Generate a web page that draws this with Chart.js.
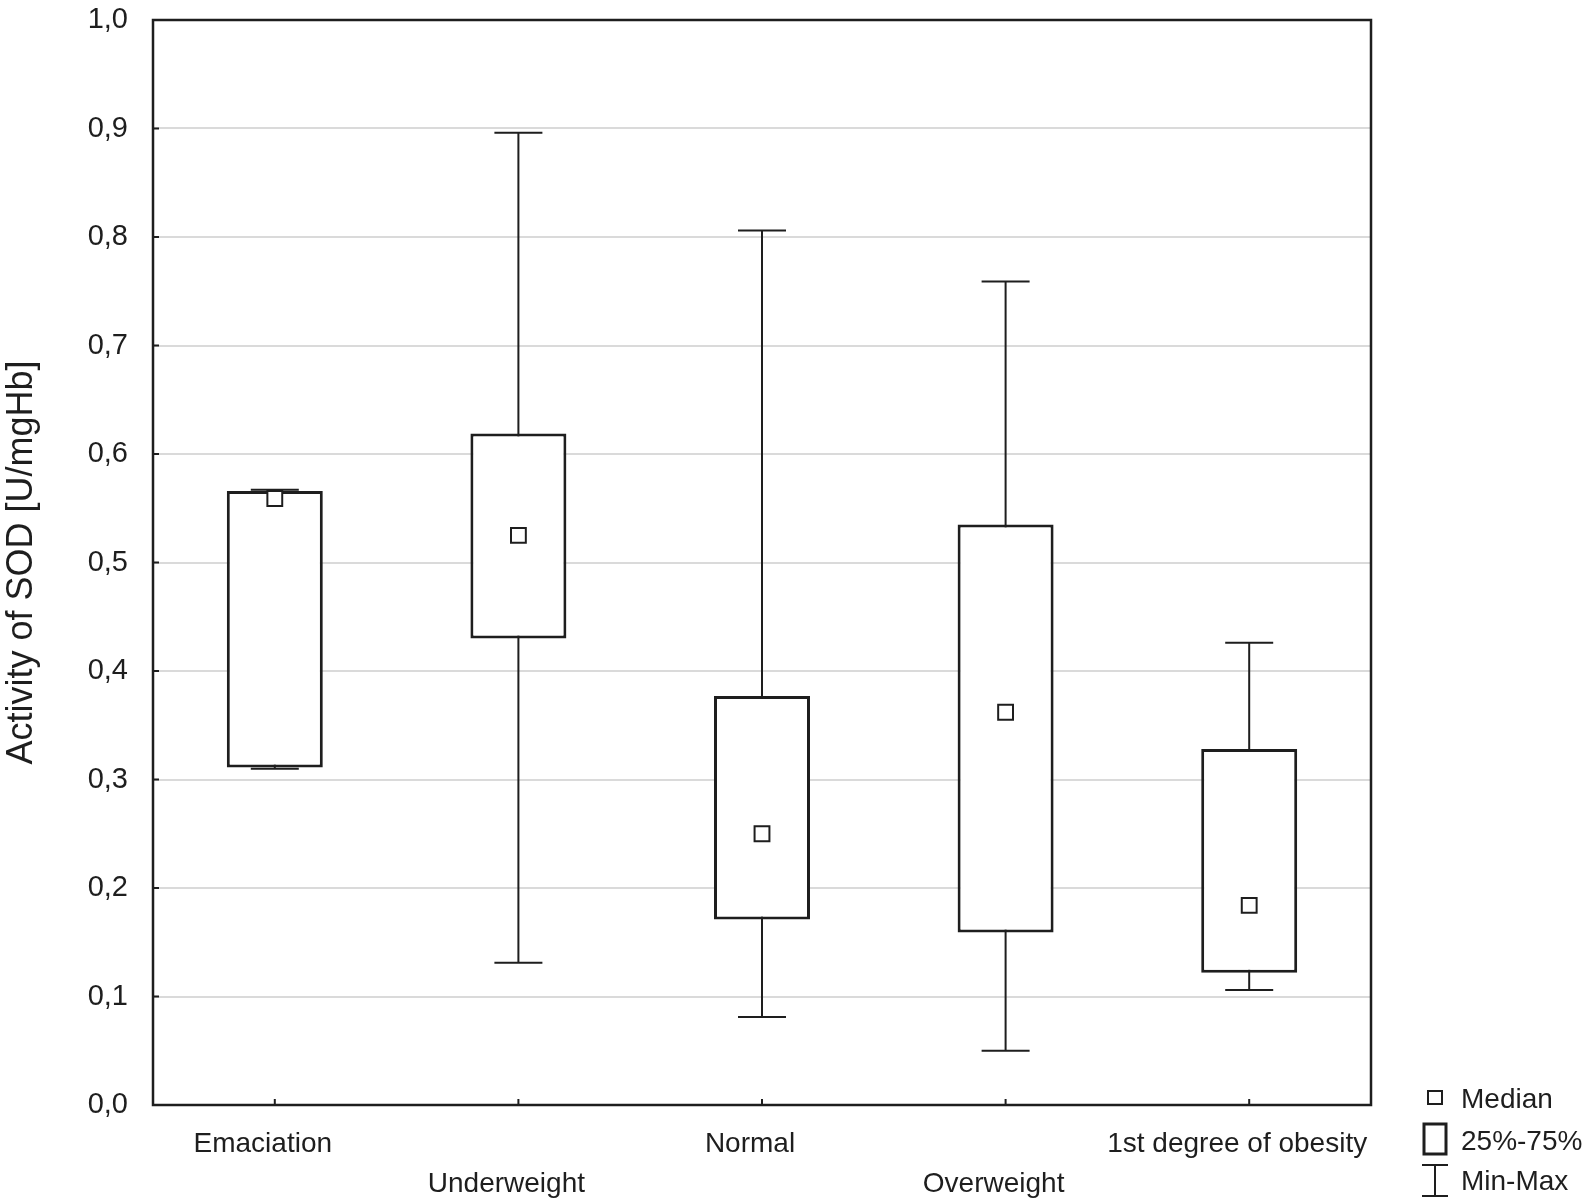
<!DOCTYPE html>
<html>
<head>
<meta charset="utf-8">
<script src="https://cdn.jsdelivr.net/npm/chart.js@4.4.1/dist/chart.umd.min.js"></script>
<style>
  html, body { margin: 0; padding: 0; background: #fff; }
  canvas { display: block; }
</style>
</head>
<body>
<canvas id="sodChart" width="1592" height="1201"></canvas>
<script>
// data
const categories = ['Emaciation', 'Underweight', 'Normal', 'Overweight', '1st degree of obesity'];
const minVals    = [0.310, 0.131, 0.081, 0.050, 0.106];
const q1Vals     = [0.311, 0.430, 0.171, 0.159, 0.122];
const medianVals = [0.559, 0.525, 0.250, 0.362, 0.184];
const q3Vals     = [0.566, 0.619, 0.377, 0.535, 0.328];
const maxVals    = [0.567, 0.896, 0.806, 0.759, 0.426];
const yTickLabels = ['0,0', '0,1', '0,2', '0,3', '0,4', '0,5', '0,6', '0,7', '0,8', '0,9', '1,0'];
const legendLabels = ['Median', '25%-75%', 'Min-Max'];

const ink = '#1e1e1e';
const fontFamily = '"Liberation Sans", Arial, sans-serif';

// staggered labels: even ones on first row, odd ones on second row
const xLabels = categories.map((c, i) => i % 2 === 0 ? [c, ''] : ['', c]);

// whiskers behind the boxes
const whiskerPlugin = {
  id: 'whiskers',
  beforeDatasetsDraw(chart) {
    const { ctx, scales: { x, y } } = chart;
    ctx.save();
    ctx.strokeStyle = ink;
    ctx.lineWidth = 2;
    categories.forEach((c, i) => {
      const px = x.getPixelForValue(i);
      const yMin = y.getPixelForValue(minVals[i]);
      const yMax = y.getPixelForValue(maxVals[i]);
      ctx.beginPath();
      ctx.moveTo(px, yMin); ctx.lineTo(px, yMax);
      ctx.moveTo(px - 24, yMin); ctx.lineTo(px + 24, yMin);
      ctx.moveTo(px - 24, yMax); ctx.lineTo(px + 24, yMax);
      ctx.stroke();
    });
    ctx.restore();
  }
};

// frame, inner ticks and the legend
const framePlugin = {
  id: 'frame',
  afterDraw(chart) {
    const { ctx, chartArea: a, scales: { x, y } } = chart;
    ctx.save();
    ctx.strokeStyle = ink;
    ctx.lineWidth = 2.5;
    ctx.strokeRect(a.left, a.top, a.right - a.left, a.bottom - a.top);

    ctx.lineWidth = 2;
    ctx.beginPath();
    y.ticks.forEach(t => {
      const py = y.getPixelForValue(t.value);
      ctx.moveTo(a.left, py); ctx.lineTo(a.left + 6, py);
    });
    categories.forEach((c, i) => {
      const px = x.getPixelForValue(i);
      ctx.moveTo(px, a.bottom); ctx.lineTo(px, a.bottom - 6);
    });
    ctx.stroke();

    // legend
    const lx = 1435;
    ctx.font = '28px ' + fontFamily;
    ctx.fillStyle = ink;
    ctx.textBaseline = 'middle';
    ctx.textAlign = 'left';

    ctx.lineWidth = 2;
    ctx.strokeRect(lx - 7, 1091, 14, 13);
    ctx.fillText(legendLabels[0], 1461, 1100);

    ctx.lineWidth = 3;
    ctx.strokeRect(lx - 11, 1124, 22, 30);
    ctx.fillText(legendLabels[1], 1461, 1142);

    ctx.lineWidth = 2;
    ctx.beginPath();
    ctx.moveTo(lx, 1165); ctx.lineTo(lx, 1196);
    ctx.moveTo(lx - 13, 1165); ctx.lineTo(lx + 13, 1165);
    ctx.moveTo(lx - 13, 1196); ctx.lineTo(lx + 13, 1196);
    ctx.stroke();
    ctx.fillText(legendLabels[2], 1461, 1182);
    ctx.restore();
  }
};

new Chart(document.getElementById('sodChart'), {
  type: 'bar',
  data: {
    labels: xLabels,
    datasets: [
      {
        label: 'Median',
        type: 'line',
        data: medianVals,
        showLine: false,
        pointStyle: 'rect',
        pointRadius: 10.5,
        pointBorderWidth: 2,
        pointBorderColor: ink,
        pointBackgroundColor: '#ffffff',
        order: 0
      },
      {
        label: '25%-75%',
        data: q1Vals.map((q, i) => [q, q3Vals[i]]),
        backgroundColor: '#ffffff',
        borderColor: ink,
        borderWidth: 3,
        borderSkipped: false,
        barPercentage: 0.394,
        categoryPercentage: 1,
        order: 1
      }
    ]
  },
  options: {
    responsive: false,
    animation: false,
    devicePixelRatio: 1,
    layout: { padding: { top: 20, right: 221, bottom: 0, left: 0 } },
    plugins: {
      legend: { display: false },
      tooltip: { enabled: false }
    },
    scales: {
      x: {
        offset: true,
        grid: { display: false, drawTicks: false },
        border: { display: false },
        ticks: {
          autoSkip: false,
          minRotation: 0,
          maxRotation: 0,
          padding: 19,
          labelOffset: -12,
          color: ink,
          font: { family: fontFamily, size: 28, lineHeight: 1.43 }
        },
        afterFit: s => { s.height = 96; }
      },
      y: {
        min: 0,
        max: 1,
        grid: { color: '#dadada', lineWidth: 2, drawTicks: false },
        border: { display: false },
        ticks: {
          stepSize: 0.1,
          padding: 25,
          color: ink,
          font: { family: fontFamily, size: 29 },
          callback: (v, i) => yTickLabels[i]
        },
        title: {
          display: true,
          text: 'Activity of SOD [U/mgHb]',
          color: ink,
          font: { family: fontFamily, size: 36 },
          padding: { top: 0, bottom: 0 }
        },
        afterFit: s => {
          s.width = 153;
          s.paddingTop = 0;
          s.paddingBottom = 0;
        }
      }
    }
  },
  plugins: [whiskerPlugin, framePlugin]
});
</script>
</body>
</html>
